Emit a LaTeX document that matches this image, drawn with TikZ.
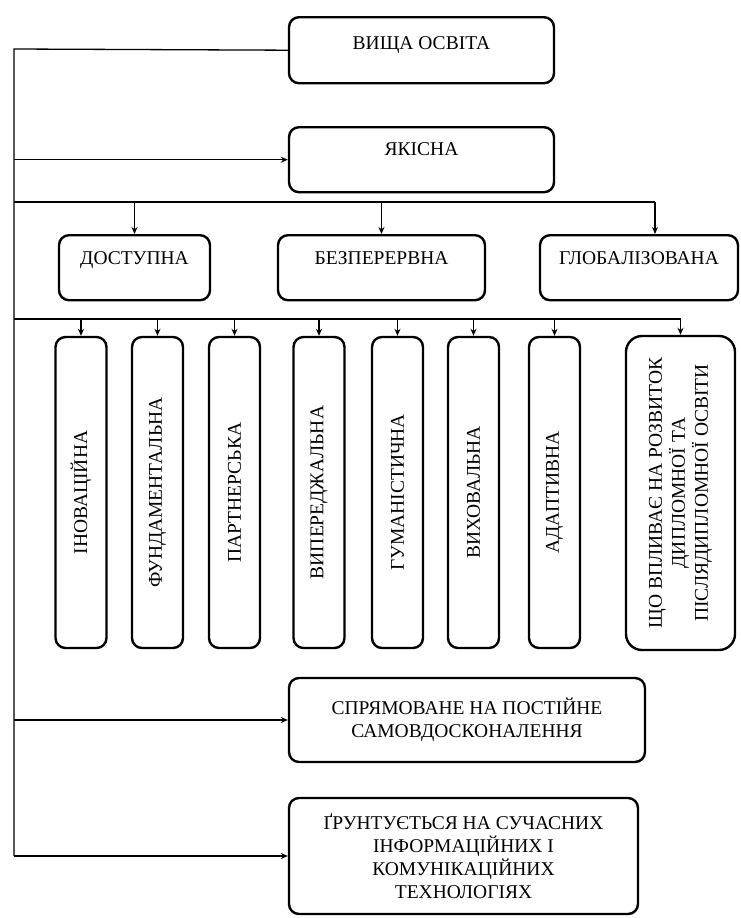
\documentclass[tikz,border=0pt]{standalone}
\usepackage{fontspec}
\setmainfont{Liberation Serif}
\usetikzlibrary{arrows.meta}
\begin{document}
\begin{tikzpicture}[x=1pt,y=-1pt,
  box/.style={draw, line width=2.4pt, rounded corners=10pt, inner sep=0pt,
    align=center, font=\fontsize{19.5}{23}\selectfont},
  vbox/.style={box, rotate=90, minimum width=311, minimum height=51},
  link/.style={line width=1.3pt},
  >={Stealth[length=7pt,width=6pt]}]
\useasboundingbox (0,0) rectangle (741,918);
% upper level
\node [box, anchor=north, minimum width=265, text height=32, text depth=34] (osvita) at (421.5,16) {ВИЩА ОСВІТА};
\node [box, anchor=north, minimum width=265, text height=28.5, text depth=36.5] (yakisna) at (421.5,126) {ЯКІСНА};
\node [box, anchor=north, minimum width=151, text height=29, text depth=36] (dostupna) at (134.5,234) {ДОСТУПНА};
\node [box, anchor=north, minimum width=207, text height=29, text depth=36] (bezperervna) at (381.5,234) {БЕЗПЕРЕРВНА};
\node [box, anchor=north, minimum width=198, text height=29, text depth=36] (globalizovana) at (639,234) {ГЛОБАЛІЗОВАНА};
% vertical boxes
\foreach \x/\t/\n in {81/ІНОВАЦІЙНА/inov, 157.5/ФУНДАМЕНТАЛЬНА/fund, 234.5/ПАРТНЕРСЬКА/partn,
  319/ВИПЕРЕДЖАЛЬНА/vyper, 397.5/ГУМАНІСТИЧНА/human, 473.5/ВИХОВАЛЬНА/vykh, 554.5/АДАПТИВНА/adapt}{
  \node [vbox] (\n) at (\x,492.5) {\t};
}
\node [box, rotate=90, minimum width=314, minimum height=109, rounded corners=16pt] (vplyv) at (680.5,493)
  {ЩО ВПЛИВАЄ НА РОЗВИТОК\\ДИПЛОМНОЇ ТА\\ПІСЛЯДИПЛОМНОЇ ОСВІТИ};
% lower level
\node [box, minimum width=356, minimum height=84] (spryam) at (467,720) {СПРЯМОВАНЕ НА ПОСТІЙНЕ\\САМОВДОСКОНАЛЕННЯ};
\node [box, minimum width=349, minimum height=116] (gruntu) at (463.5,856) {ҐРУНТУЄТЬСЯ НА СУЧАСНИХ\\ІНФОРМАЦІЙНИХ І\\КОМУНІКАЦІЙНИХ\\ТЕХНОЛОГІЯХ};
% connectors
\coordinate (top) at (14,49);
\coordinate (row1) at (14,202);
\coordinate (row2) at (14,319);
\coordinate (bot) at (gruntu.west -| top);
\draw [link] (osvita.west) -- (top) -- (bot);
\draw [link,->] (bot) -- (gruntu.west);
\draw [link,->] (yakisna.west -| top) -- (yakisna.west);
\draw [link,->] (spryam.west -| top) -- (spryam.west);
\draw [link] (row1) -- ([xshift=16]globalizovana.north |- row1);
\draw [link,->] (dostupna.north |- row1) -- (dostupna.north);
\draw [link,->] (bezperervna.north |- row1) -- (bezperervna.north);
\draw [link,->] ([xshift=16]globalizovana.north |- row1) -- ([xshift=16]globalizovana.north);
\draw [link] (row2) -- (vplyv.east |- row2);
\foreach \n in {inov,fund,partn,vyper,human,vykh,adapt,vplyv}{
  \draw [link,->] (\n.east |- row2) -- (\n.east);
}
\end{tikzpicture}
\end{document}
